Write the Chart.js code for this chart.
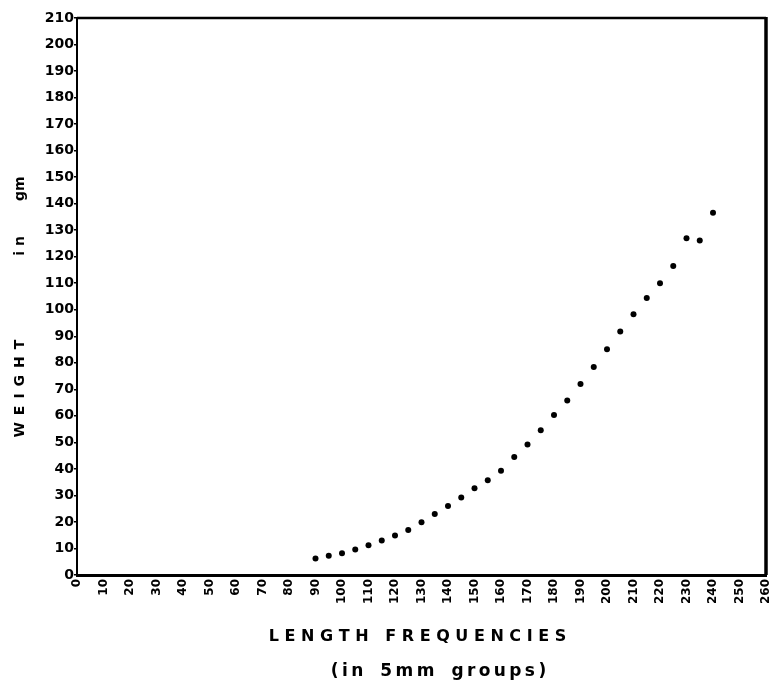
<!DOCTYPE html>
<html>
<head>
<meta charset="utf-8">
<script src="https://cdn.jsdelivr.net/npm/chart.js@4.4.1/dist/chart.umd.min.js"></script>
<style>
  html, body { margin: 0; padding: 0; background: #fff; }
  canvas { display: block; }
</style>
</head>
<body>
<canvas id="weightChart" width="772" height="685"></canvas>
<script>
// length groups (mm) and mean weight (gm)
const lengthGroups = [90, 95, 100, 105, 110, 115, 120, 125, 130, 135, 140, 145, 150, 155, 160,
  165, 170, 175, 180, 185, 190, 195, 200, 205, 210, 215, 220, 225, 230, 235, 240];
const weights = [6.2, 7.3, 8.2, 9.6, 11.2, 13.0, 14.9, 17.0, 19.9, 23.0, 26.0, 29.2, 32.7, 35.7, 39.3,
  44.5, 49.2, 54.6, 60.3, 65.8, 72.0, 78.4, 85.1, 91.8, 98.3, 104.4, 110.0, 116.5, 127.0, 126.1, 136.6];

const xTicks = [0, 10, 20, 30, 40, 50, 60, 70, 80, 90, 100, 110, 120, 130, 140, 150, 160, 170, 180,
  190, 200, 210, 220, 230, 240, 250, 260];
const yTicks = [0, 10, 20, 30, 40, 50, 60, 70, 80, 90, 100, 110, 120, 130, 140, 150, 160, 170, 180,
  190, 200, 210];

const xTitle = 'L E N G T H   F R E Q U E N C I E S\u2002';
const subTitle = '\u2003\u2003(\u2009i\u2009n\u2002\u20025\u2009m\u2009m\u2002\u2002g\u2009r\u2009o\u2009u\u2009p\u2009s\u2009)';
const yTitle = 'W\u2002E\u2002I\u2002G\u2002H\u2002T' + '\u2003\u2003\u2003\u2003\u2003\u2003' +
  'i n' + '\u2003\u2003\u2002' + 'gm' + '\u2003\u2002';

const FONT = "'DejaVu Sans', sans-serif";

// top and right edges of the frame
const framePlugin = {
  id: 'frame',
  afterDraw(chart) {
    const {ctx, chartArea: a} = chart;
    ctx.save();
    ctx.strokeStyle = '#000';
    ctx.lineWidth = 2.5;
    ctx.beginPath();
    ctx.moveTo(a.left, a.top);
    ctx.lineTo(a.right, a.top);
    ctx.stroke();
    ctx.lineWidth = 3.5;
    ctx.beginPath();
    ctx.moveTo(a.right, a.top - 1);
    ctx.lineTo(a.right, a.bottom);
    ctx.stroke();
    ctx.restore();
  }
};

const points = lengthGroups.map((l, i) => ({x: l, y: weights[i]}));

new Chart(document.getElementById('weightChart').getContext('2d'), {
  type: 'scatter',
  data: {
    datasets: [{
      label: 'Weight',
      data: points,
      backgroundColor: '#000',
      borderColor: '#000',
      pointRadius: 3,
      pointBorderWidth: 0
    }]
  },
  options: {
    responsive: false,
    animation: false,
    layout: { padding: { top: 18, right: 6, left: 0, bottom: 0 } },
    plugins: {
      legend: { display: false },
      tooltip: { enabled: false },
      title: {
        display: true,
        position: 'bottom',
        fullSize: false,
        text: subTitle,
        color: '#000',
        font: { family: FONT, size: 17, weight: 'bold', lineHeight: 1.2 },
        padding: { top: 0, bottom: 3 }
      }
    },
    scales: {
      x: {
        type: 'linear',
        min: 0,
        max: 260,
        afterBuildTicks: (scale) => { scale.ticks = xTicks.map(v => ({value: v})); },
        afterFit: (scale) => {
          scale.height = 86.6;
          scale.paddingLeft = 0;
          scale.paddingRight = 0;
        },
        grid: { display: false, drawTicks: false },
        border: { display: true, color: '#000', width: 3 },
        ticks: {
          autoSkip: false,
          maxRotation: 90,
          minRotation: 90,
          padding: 4,
          color: '#000',
          font: { family: FONT, size: 12, weight: 'bold' }
        },
        title: {
          display: true,
          text: xTitle,
          color: '#000',
          font: { family: FONT, size: 16, weight: 'bold', lineHeight: 1.2 },
          padding: { top: 0, bottom: 15 }
        }
      },
      y: {
        type: 'linear',
        min: 0,
        max: 210,
        afterBuildTicks: (scale) => { scale.ticks = yTicks.map(v => ({value: v})); },
        afterFit: (scale) => { scale.width = 77; },
        grid: {
          display: true,
          drawOnChartArea: false,
          drawTicks: true,
          tickLength: 3,
          color: '#000',
          lineWidth: 1.5
        },
        border: { display: true, color: '#000', width: 2 },
        ticks: {
          padding: 0,
          color: '#000',
          font: { family: FONT, size: 14, weight: 'bold' }
        },
        title: {
          display: true,
          text: yTitle,
          color: '#000',
          font: { family: FONT, size: 14, weight: 'bold', lineHeight: 1.2 },
          padding: { top: 12, bottom: 0 }
        }
      }
    }
  },
  plugins: [framePlugin]
});
</script>
</body>
</html>
